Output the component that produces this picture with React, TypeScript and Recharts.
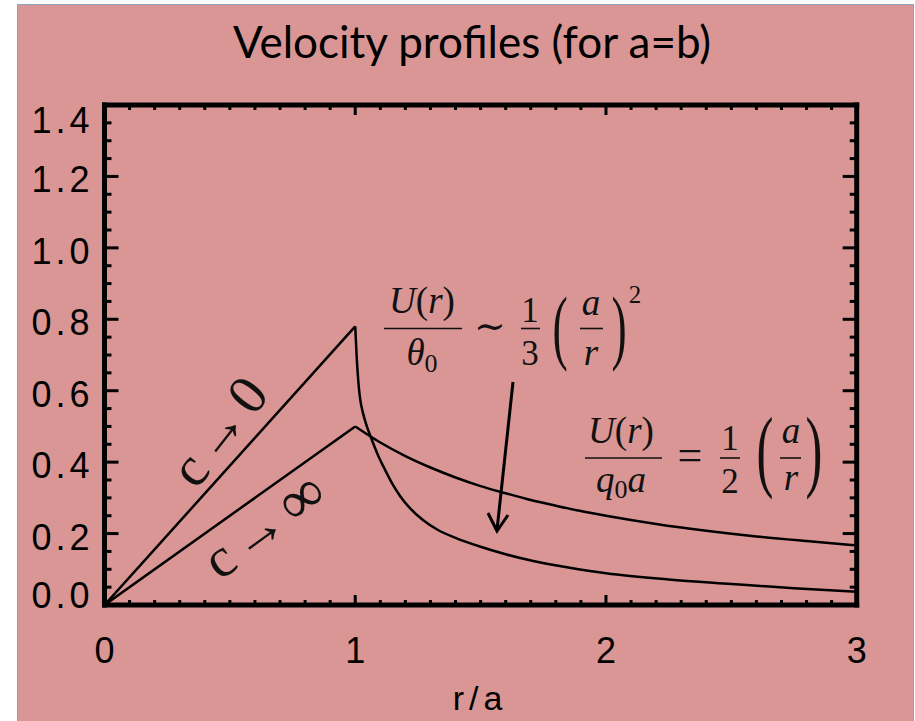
import React from 'react';
import { LineChart, Line, XAxis, YAxis } from 'recharts';

// ---- data ----
// c -> infinity: linear rise to r = a, then (1/2)(a/r) decay
const rInf = [0, 1, 1.1, 1.2, 1.3, 1.4, 1.5, 1.6, 1.7, 1.8, 1.9, 2.0, 2.2, 2.4, 2.6, 2.8, 3.0];
const uInf = [0, 0.5, 0.455, 0.417, 0.385, 0.357, 0.333, 0.313, 0.294, 0.278, 0.263, 0.25, 0.227, 0.208, 0.192, 0.179, 0.167];

// c -> 0: linear rise to r = a, then sharp drop ~ (1/3)(a/r)^2
const rZero = [0, 1, 1.005, 1.01, 1.015, 1.02, 1.03, 1.045, 1.065, 1.09, 1.12, 1.15, 1.18, 1.22, 1.27, 1.33, 1.4, 1.5, 1.6, 1.71, 1.85, 2.0, 2.25, 2.5, 2.75, 3.0];
const uZero = [0, 0.78, 0.705, 0.648, 0.605, 0.575, 0.54, 0.503, 0.465, 0.421, 0.377, 0.337, 0.304, 0.27, 0.238, 0.21, 0.188, 0.163, 0.142, 0.123, 0.105, 0.089, 0.0715, 0.059, 0.047, 0.037];

const xMajorTicks = [0, 1, 2, 3];
const xTickLabels = ['0', '1', '2', '3'];
const yMajorTicks = [0, 0.2, 0.4, 0.6, 0.8, 1.0, 1.2, 1.4];
const yTickLabels = ['0.0', '0.2', '0.4', '0.6', '0.8', '1.0', '1.2', '1.4'];

const xDomain: [number, number] = [0, 3];
const yDomain: [number, number] = [0, 1.4];

// minor tick positions: every 0.1 in r, every 0.05 in U
const xAllTicks = Array.from({ length: 31 }, (_, i) => i / 10);
const yAllTicks = Array.from({ length: 29 }, (_, i) => i / 20);

const toRows = (rs: number[], us: number[]) => rs.map((r, i) => ({ r, u: us[i] }));
// the rising part is a straight segment up to r = a (index 1); the tail is drawn smooth
const infRise = toRows(rInf.slice(0, 2), uInf.slice(0, 2));
const infTail = toRows(rInf.slice(1), uInf.slice(1));
const zeroRise = toRows(rZero.slice(0, 2), uZero.slice(0, 2));
const zeroTail = toRows(rZero.slice(1), uZero.slice(1));

// ---- styling ----
const W = 915;
const H = 721;
const BG = '#D99694';
const INK = '#000';
const tickFont = "'Liberation Sans', Arial, sans-serif";
const serif = "'Liberation Serif', 'DejaVu Serif', serif";

const near = (a: number, b: number) => Math.abs(a - b) < 1e-6;
const majorIndex = (v: number, majors: number[]) => majors.findIndex((m) => near(m, v));

const BottomTick = (props: any) => {
  const { x, y, payload } = props;
  const idx = majorIndex(payload.value, xMajorTicks);
  const major = idx >= 0;
  return (
    <g>
      <line x1={x} x2={x} y1={y} y2={y - (major ? 10 : 5)} stroke={INK} strokeWidth={3} />
      {major && (
        <text x={x} y={y + 58} textAnchor="middle" fontFamily={tickFont} fontSize={36} fill={INK}>
          {xTickLabels[idx]}
        </text>
      )}
    </g>
  );
};

const TopTick = (props: any) => {
  const { x, y, payload } = props;
  const major = majorIndex(payload.value, xMajorTicks) >= 0;
  return <line x1={x} x2={x} y1={y} y2={y + (major ? 10 : 5)} stroke={INK} strokeWidth={3} />;
};

const LeftTick = (props: any) => {
  const { x, y, payload } = props;
  const idx = majorIndex(payload.value, yMajorTicks);
  const major = idx >= 0;
  let dy = 16;
  if (idx === 0) dy = 3;
  if (idx === yMajorTicks.length - 1) dy = 28;
  return (
    <g>
      <line x1={x} x2={x + (major ? 14 : 7)} y1={y} y2={y} stroke={INK} strokeWidth={3} />
      {major && (
        <text x={x - 11} y={y + dy} textAnchor="end" fontFamily={tickFont} fontSize={36} letterSpacing={4} fill={INK}>
          {yTickLabels[idx]}
        </text>
      )}
    </g>
  );
};

const RightTick = (props: any) => {
  const { x, y, payload } = props;
  const major = majorIndex(payload.value, yMajorTicks) >= 0;
  return <line x1={x} x2={x - (major ? 14 : 7)} y1={y} y2={y} stroke={INK} strokeWidth={3} />;
};

const axisLine = { stroke: INK, strokeWidth: 5, strokeLinecap: 'square' as const };

const curve = (data: { r: number; u: number }[], type: 'linear' | 'monotone', key: string) => (
  <Line
    key={key}
    data={data}
    dataKey="u"
    type={type}
    stroke={INK}
    strokeWidth={2.5}
    dot={false}
    activeDot={false}
    isAnimationActive={false}
  />
);

export default function App() {
  return (
    <div style={{ position: 'absolute', left: 0, top: 0, width: W, height: H, background: '#fff', overflow: 'hidden' }}>
      <div
        style={{
          position: 'absolute',
          left: 17,
          top: 4,
          width: 897,
          height: 740,
          boxSizing: 'border-box',
          background: BG,
          border: '1px solid #8FA0C4',
        }}
      />
      <div style={{ position: 'absolute', left: 0, top: 0 }}>
        <LineChart width={W} height={H} margin={{ top: 95, right: 48.3, bottom: 56, left: 44.5 }}>
          <XAxis
            xAxisId={0}
            dataKey="r"
            type="number"
            domain={xDomain}
            ticks={xAllTicks}
            interval={0}
            allowDataOverflow
            height={60}
            tickSize={0}
            tickMargin={0}
            tickLine={false}
            axisLine={axisLine}
            tick={BottomTick}
          />
          <XAxis
            xAxisId="top"
            orientation="top"
            dataKey="r"
            type="number"
            domain={xDomain}
            ticks={xAllTicks}
            interval={0}
            allowDataOverflow
            height={10}
            tickSize={0}
            tickMargin={0}
            tickLine={false}
            axisLine={axisLine}
            tick={TopTick}
          />
          <YAxis
            yAxisId={0}
            type="number"
            domain={yDomain}
            ticks={yAllTicks}
            interval={0}
            allowDataOverflow
            width={60}
            tickSize={0}
            tickMargin={0}
            tickLine={false}
            axisLine={axisLine}
            tick={LeftTick}
          />
          <YAxis
            yAxisId="right"
            orientation="right"
            type="number"
            domain={yDomain}
            ticks={yAllTicks}
            interval={0}
            allowDataOverflow
            width={10}
            tickSize={0}
            tickMargin={0}
            tickLine={false}
            axisLine={axisLine}
            tick={RightTick}
          />
          {curve(infRise, 'linear', 'inf-rise')}
          {curve(infTail, 'monotone', 'inf-tail')}
          {curve(zeroRise, 'linear', 'zero-rise')}
          {curve(zeroTail, 'monotone', 'zero-tail')}
        </LineChart>
      </div>
      <svg width={W} height={H} style={{ position: 'absolute', left: 0, top: 0, pointerEvents: 'none' }}>
        {/* title */}
        <text x={472} y={58} textAnchor="middle" fontFamily="Lato, 'Open Sans', sans-serif" fontSize={44} fill={INK}>
          Velocity profiles (for a=b)
        </text>
        {/* x axis title */}
        <text x={480} y={710} textAnchor="middle" fontFamily={tickFont} fontSize={34} letterSpacing={5} fill={INK}>
          r/a
        </text>

        {/* limit labels along the rising branches */}
        <text transform="translate(221,433) rotate(-52)" x={0} y={16} textAnchor="middle" fontFamily={serif} fontSize={56} fill="#111">
          c<tspan dx={6}>→</tspan>
          <tspan dx={6}>0</tspan>
        </text>
        <text transform="translate(266,528) rotate(-36)" x={0} y={16} textAnchor="middle" fontFamily={serif} fontSize={56} fill="#111">
          c<tspan dx={6}>→</tspan>
          <tspan dx={6} fontSize={62}>∞</tspan>
        </text>

        {/* U(r)/θ0 ~ (1/3)(a/r)^2 */}
        <g fontFamily={serif} fill="#111">
          <text x={422} y={313} fontSize={37} textAnchor="middle">
            <tspan fontStyle="italic">U</tspan>(<tspan fontStyle="italic">r</tspan>)
          </text>
          <line x1={384} x2={462} y1={328.5} y2={328.5} stroke="#111" strokeWidth={1.6} />
          <text x={422} y={365} fontSize={37} textAnchor="middle">
            <tspan fontStyle="italic">θ</tspan>
            <tspan fontSize={26} dy={7}>0</tspan>
          </text>
          <text x={490} y={339} fontSize={38} textAnchor="middle">∼</text>
          <text x={530} y={322} fontSize={35} textAnchor="middle">1</text>
          <line x1={521} x2={540} y1={328.5} y2={328.5} stroke="#111" strokeWidth={1.6} />
          <text x={530} y={365} fontSize={35} textAnchor="middle">3</text>
          <text transform="translate(560,354) scale(0.55,1)" fontSize={83} textAnchor="middle">(</text>
          <text x={591} y={315} fontSize={37} fontStyle="italic" textAnchor="middle">a</text>
          <line x1={580} x2={603} y1={328.5} y2={328.5} stroke="#111" strokeWidth={1.6} />
          <text x={591} y={365} fontSize={37} fontStyle="italic" textAnchor="middle">r</text>
          <text transform="translate(619,354) scale(0.55,1)" fontSize={83} textAnchor="middle">)</text>
          <text x={635} y={303} fontSize={25} textAnchor="middle">2</text>
        </g>

        {/* pointer to the c -> 0 tail */}
        <line x1={513} y1={382} x2={497} y2={530} stroke={INK} strokeWidth={3} />
        <polyline points="488,513 497,531 508,515" fill="none" stroke={INK} strokeWidth={3} />

        {/* U(r)/(q0 a) = (1/2)(a/r) */}
        <g fontFamily={serif} fill="#111">
          <text x={621} y={443} fontSize={37} textAnchor="middle">
            <tspan fontStyle="italic">U</tspan>(<tspan fontStyle="italic">r</tspan>)
          </text>
          <line x1={585} x2={662} y1={458} y2={458} stroke="#111" strokeWidth={1.6} />
          <text x={621} y={492} fontSize={37} textAnchor="middle">
            <tspan fontStyle="italic">q</tspan>
            <tspan fontSize={26} dy={6}>0</tspan>
            <tspan fontStyle="italic" dy={-6}>a</tspan>
          </text>
          <text x={690} y={470} fontSize={44} textAnchor="middle">=</text>
          <text x={730} y={450} fontSize={35} textAnchor="middle">1</text>
          <line x1={720} x2={740} y1={458} y2={458} stroke="#111" strokeWidth={1.6} />
          <text x={730} y={493} fontSize={35} textAnchor="middle">2</text>
          <text transform="translate(765,480) scale(0.55,1)" fontSize={92} textAnchor="middle">(</text>
          <text x={791} y={443} fontSize={37} fontStyle="italic" textAnchor="middle">a</text>
          <line x1={780} x2={801} y1={458} y2={458} stroke="#111" strokeWidth={1.6} />
          <text x={791} y={490} fontSize={37} fontStyle="italic" textAnchor="middle">r</text>
          <text transform="translate(814,480) scale(0.55,1)" fontSize={92} textAnchor="middle">)</text>
        </g>
      </svg>
    </div>
  );
}
